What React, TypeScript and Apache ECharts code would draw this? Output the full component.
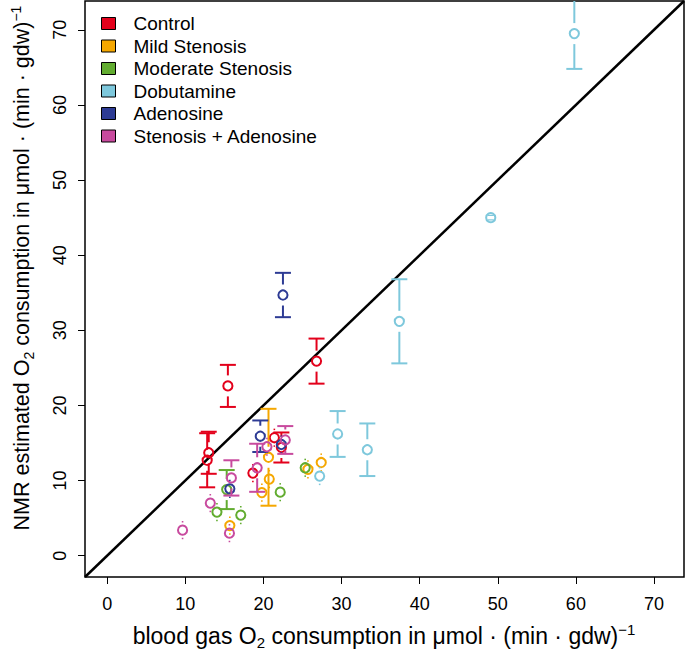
import React, { useEffect, useRef } from "react";
import * as echarts from "echarts";

// ---- data: [x (blood gas), y (NMR), error] ----
const groupNames = ["Control", "Mild Stenosis", "Moderate Stenosis", "Dobutamine", "Adenosine", "Stenosis + Adenosine"];
const groupColors = ["#E3001B", "#F5A700", "#62AC30", "#7EC8DC", "#2D3B94", "#C84A9E"];

const control = [
  [26.8, 25.9, 3.0],
  [15.45, 22.6, 2.8],
  [13.0, 13.7, 2.8],
  [12.8, 12.7, 3.6],
  [21.4, 15.7, 0.9],
  [22.3, 14.4, 2.0],
  [18.65, 11.0, 0.9],
];
const mildStenosis = [
  [20.65, 13.1, 6.45],
  [20.75, 10.2, 0.9],
  [19.8, 8.4, 0.9],
  [15.7, 4.0, 0.9],
  [27.4, 12.4, 0.9],
  [25.7, 11.5, 0.9],
];
const moderateStenosis = [
  [25.35, 11.7, 0.9],
  [22.15, 8.45, 0.9],
  [17.1, 5.4, 0.9],
  [14.05, 5.8, 0.9],
  [15.3, 8.8, 2.6],
];
const dobutamine = [
  [59.8, 69.5, 4.7],
  [49.1, 45.0, 0.3],
  [37.4, 31.2, 5.6],
  [29.5, 16.2, 3.05],
  [33.3, 14.1, 3.5],
  [27.2, 10.6, 0.9],
];
const adenosine = [
  [22.5, 34.7, 2.95],
  [19.6, 15.9, 2.1],
  [22.3, 14.8, 0.9],
  [15.7, 8.9, 0.9],
];
const stenosisAdenosine = [
  [9.65, 3.4, 0.9],
  [13.2, 7.0, 0.9],
  [15.65, 3.0, 0.9],
  [15.9, 10.35, 2.35],
  [19.2, 11.7, 3.2],
  [20.45, 14.5, 0.9],
  [22.8, 15.4, 1.85],
];
const groupData = [control, mildStenosis, moderateStenosis, dobutamine, adenosine, stenosisAdenosine];

const axisMin = -2.84;
const axisMax = 73.84;
const tickValues = [0, 10, 20, 30, 40, 50, 60, 70];
const identityLine = [
  [axisMin, axisMin],
  [axisMax, axisMax],
];

const FONT = "'Liberation Sans', Arial, Helvetica, sans-serif";

function makeRenderItem(color: string) {
  return (params: any, api: any) => {
    const x = api.value(0);
    const y = api.value(1);
    const e = api.value(2);
    const c = api.coord([x, y]);
    const top = api.coord([x, y + e]);
    const bot = api.coord([x, y - e]);
    const ePx = c[1] - top[1];
    const r = 4.6;
    const gap = 10.5;
    const cap = 8;
    const lw = 2;
    const st = { stroke: color, lineWidth: lw, fill: "none" };
    const children: any[] = [];
    if (ePx > gap) {
      children.push({ type: "line", shape: { x1: c[0], y1: c[1] - gap, x2: c[0], y2: top[1] }, style: st });
      children.push({ type: "line", shape: { x1: c[0], y1: c[1] + gap, x2: c[0], y2: bot[1] }, style: st });
      children.push({ type: "line", shape: { x1: c[0] - cap, y1: top[1], x2: c[0] + cap, y2: top[1] }, style: st });
      children.push({ type: "line", shape: { x1: c[0] - cap, y1: bot[1], x2: c[0] + cap, y2: bot[1] }, style: st });
    } else if (ePx < r) {
      children.push({ type: "line", shape: { x1: c[0] - r + 1.5, y1: c[1] - ePx, x2: c[0] + r - 1.5, y2: c[1] - ePx }, style: { stroke: color, lineWidth: 1.2 } });
      children.push({ type: "line", shape: { x1: c[0] - r + 1.5, y1: c[1] + ePx, x2: c[0] + r - 1.5, y2: c[1] + ePx }, style: { stroke: color, lineWidth: 1.2 } });
    } else {
      children.push({ type: "line", shape: { x1: c[0], y1: c[1] - r - 3, x2: c[0], y2: c[1] - r - 4.5 }, style: { stroke: color, lineWidth: 1.6 } });
      children.push({ type: "line", shape: { x1: c[0], y1: c[1] + r + 3, x2: c[0], y2: c[1] + r + 4.5 }, style: { stroke: color, lineWidth: 1.6 } });
    }
    children.push({ type: "circle", shape: { cx: c[0], cy: c[1], r }, style: st });
    return { type: "group", children };
  };
}

const richX = {
  sub: { fontSize: 15, lineHeight: 15, verticalAlign: "bottom", fontFamily: FONT, fill: "#000" },
  sup: { fontSize: 15, lineHeight: 10, verticalAlign: "top", fontFamily: FONT, fill: "#000" },
};
const richY = {
  sub: { fontSize: 14, lineHeight: 14, verticalAlign: "bottom", fontFamily: FONT, fill: "#000" },
  sup: { fontSize: 14, lineHeight: 10, verticalAlign: "top", fontFamily: FONT, fill: "#000" },
};

export default function App() {
  const ref = useRef<HTMLDivElement>(null);
  useEffect(() => {
    if (!ref.current) return;
    const chart = echarts.init(ref.current, undefined, { renderer: "svg" });
    const series: any[] = [
      {
        type: "line",
        data: identityLine,
        symbol: "none",
        lineStyle: { color: "#000", width: 2.5 },
        silent: true,
        z: 1,
      },
    ];
    groupNames.forEach((name, i) => {
      series.push({
        type: "custom",
        name,
        data: groupData[i],
        renderItem: makeRenderItem(groupColors[i]),
        itemStyle: { color: groupColors[i] },
        encode: { x: 0, y: 1 },
        clip: true,
        z: 2,
      });
    });
    const axisCommon = {
      type: "value",
      min: axisMin,
      max: axisMax,
      axisLine: { show: false, onZero: false },
      splitLine: { show: false },
      axisTick: { show: true, inside: false, length: 7, lineStyle: { color: "#000", width: 1 }, customValues: tickValues },
    };
    chart.setOption({
      animation: false,
      backgroundColor: "#fff",
      grid: { left: 85, right: 1, top: 1, bottom: 80, show: true, borderColor: "#000", borderWidth: 1.5, backgroundColor: "transparent" },
      xAxis: {
        ...axisCommon,
        axisLabel: { show: true, margin: 18, fontSize: 18, color: "#000", fontFamily: FONT, customValues: tickValues },
      },
      yAxis: {
        ...axisCommon,
        axisLabel: { show: true, margin: 16, rotate: 90, fontSize: 18, color: "#000", fontFamily: FONT, customValues: tickValues },
      },
      legend: {
        orient: "vertical",
        left: 101,
        top: 14,
        padding: 0,
        itemWidth: 14,
        itemHeight: 12,
        itemGap: 3.5,
        textStyle: { fontSize: 19, color: "#000", fontFamily: FONT, padding: [0, 0, 0, 13] },
        data: groupNames.map((n, i) => ({
          name: n,
          icon: "rect",
          itemStyle: { color: groupColors[i], borderColor: "#000", borderWidth: 1 },
        })),
      },
      graphic: [
        {
          type: "text",
          x: 384,
          y: 636,
          style: {
            text: "blood gas O{sub|2} consumption in μmol · (min · gdw){sup|−1}",
            fontSize: 23,
            lineHeight: 28,
            fontFamily: FONT,
            fill: "#000",
            align: "center",
            verticalAlign: "middle",
            rich: richX,
          },
        },
        {
          type: "text",
          x: 22,
          y: 268,
          rotation: Math.PI / 2,
          style: {
            text: "NMR estimated O{sub|2} consumption in μmol · (min · gdw){sup|−1}",
            fontSize: 21.5,
            lineHeight: 27,
            fontFamily: FONT,
            fill: "#000",
            align: "center",
            verticalAlign: "middle",
            rich: richY,
          },
        },
      ],
      series,
    });
    return () => chart.dispose();
  }, []);
  return <div ref={ref} style={{ position: "fixed", left: 0, top: 0, width: 685, height: 657 }} />;
}
